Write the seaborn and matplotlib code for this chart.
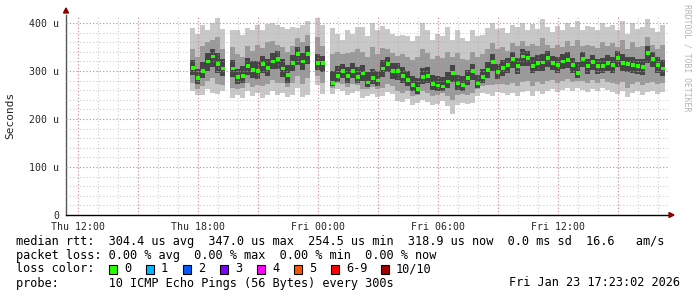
import numpy as np
import pandas as pd
import matplotlib
matplotlib.use("Agg")
import matplotlib.pyplot as plt
from matplotlib.patches import Rectangle
import seaborn as sns

# ---------------- data (hours since Thu 00:00, microseconds) ----------------
start_hour = 17.75
step_hours = 0.25
median_us = [306, 285, 300, 320, 330, 315, 305, np.nan, 305, 288, 290, 310, 302, 300, 315, 306,
             320, 325, 305, 292, 317, 335, 320, 335, np.nan, 317, 316, np.nan, 275, 290, 300, 290,
             300, 288, 295, 276, 285, 280, 305, 315, 300, 300, 290, 281, 271, 262, 288, 290,
             273, 270, 268, 278, 296, 274, 271, 285, 300, 274, 288, 302, 319, 298, 306, 312,
             325, 310, 330, 327, 311, 317, 318, 327, 317, 313, 320, 323, 312, 296, 325, 310,
             319, 310, 310, 317, 313, 327, 317, 315, 313, 310, 308, 337, 325, 313, 305]
outer_hi = [390, 378, 395, 385, 400, 410, 388, np.nan, 385, 385, 375, 390, 385, 395, 386, 398,
            400, 395, 392, 388, 392, 390, 396, 405, np.nan, 410, 395, np.nan, 390, 378, 365, 385,
            378, 392, 392, 372, 400, 385, 394, 388, 378, 372, 376, 372, 362, 372, 400, 385,
            365, 378, 372, 392, 365, 385, 368, 362, 385, 372, 375, 390, 400, 388, 390, 380,
            395, 392, 400, 385, 398, 388, 408, 392, 382, 394, 385, 400, 392, 404, 385, 394,
            392, 386, 400, 392, 396, 385, 404, 378, 400, 387, 392, 408, 390, 381, 395]
outer_lo = [258, 250, 250, 262, 255, 252, 258, np.nan, 244, 250, 244, 258, 247, 254, 244, 250,
            258, 250, 254, 246, 250, 264, 246, 250, np.nan, 270, 252, np.nan, 252, 262, 258, 250,
            255, 258, 244, 248, 252, 246, 248, 256, 252, 238, 236, 242, 230, 234, 240, 236,
            230, 232, 238, 228, 210, 230, 234, 232, 234, 248, 254, 252, 248, 256, 254, 250,
            254, 248, 256, 258, 248, 258, 252, 258, 263, 256, 260, 265, 258, 264, 260, 256,
            263, 258, 265, 260, 256, 252, 258, 246, 254, 259, 250, 256, 259, 252, 256]
mid_lo = [275, 262, 268, 280, 285, 272, 270, np.nan, 265, 262, 265, 276, 266, 270, 268, 272,
          282, 276, 274, 266, 275, 290, 272, 285, np.nan, 290, 276, np.nan, 265, 275, 272, 266,
          272, 270, 262, 262, 266, 262, 265, 272, 268, 258, 255, 258, 248, 250, 258, 255,
          248, 250, 254, 248, 240, 250, 252, 250, 255, 262, 268, 270, 270, 272, 272, 270,
          275, 268, 278, 280, 268, 278, 272, 280, 282, 275, 280, 284, 278, 280, 280, 275,
          282, 276, 284, 278, 275, 272, 278, 265, 272, 278, 270, 276, 278, 272, 275]
mid_hi = [345, 330, 352, 360, 365, 370, 345, np.nan, 350, 335, 330, 352, 342, 355, 348, 360,
          362, 355, 350, 340, 352, 368, 360, 375, np.nan, 370, 352, np.nan, 335, 340, 335, 338,
          340, 345, 340, 330, 350, 335, 348, 345, 338, 332, 335, 330, 322, 330, 345, 338,
          325, 332, 328, 340, 330, 338, 325, 322, 340, 330, 335, 345, 358, 345, 350, 342,
          358, 352, 362, 352, 356, 352, 368, 355, 348, 355, 350, 362, 352, 365, 352, 355,
          352, 348, 360, 352, 358, 350, 365, 345, 360, 350, 352, 370, 355, 345, 355]
core_lo = [292, 272, 285, 300, 308, 295, 290, np.nan, 288, 272, 276, 292, 286, 284, 296, 290,
           304, 305, 288, 276, 300, 312, 302, 315, np.nan, 302, 298, np.nan, 268, 278, 285, 275,
           285, 276, 280, 266, 272, 268, 288, 298, 284, 282, 274, 268, 258, 252, 272, 274,
           260, 258, 258, 264, 278, 260, 258, 270, 282, 264, 274, 286, 300, 284, 290, 296,
           306, 294, 310, 310, 295, 300, 300, 308, 302, 296, 304, 306, 296, 285, 308, 294,
           302, 294, 295, 300, 296, 308, 300, 298, 296, 294, 292, 316, 308, 296, 290]
core_hi = [322, 305, 318, 338, 345, 338, 325, np.nan, 322, 305, 310, 328, 320, 320, 332, 325,
           338, 342, 325, 312, 334, 350, 338, 352, np.nan, 335, 332, np.nan, 300, 310, 315, 308,
           316, 308, 312, 298, 305, 300, 322, 330, 316, 316, 308, 300, 290, 285, 306, 308,
           292, 290, 288, 298, 312, 292, 290, 302, 315, 292, 305, 318, 335, 315, 322, 328,
           340, 328, 345, 342, 330, 333, 335, 342, 332, 330, 335, 340, 328, 318, 340, 326,
           334, 326, 328, 333, 330, 342, 335, 330, 330, 326, 325, 352, 340, 330, 322]

tick_hours = [12, 18, 24, 30, 36]
tick_labels = ["Thu 12:00", "Thu 18:00", "Fri 00:00", "Fri 06:00", "Fri 12:00"]
y_ticks = [0, 100, 200, 300, 400]
y_tick_labels = ["0", "100 u", "200 u", "300 u", "400 u"]
loss_labels = ["0", "1", "2", "3", "4", "5", "6-9", "10/10"]
loss_colors = ["#26ff00", "#00b8ff", "#0059ff", "#7e00ff", "#ff00ff", "#ff5500", "#ff0000", "#a10000"]
legend_lines = [
    "median rtt:  304.4 us avg  347.0 us max  254.5 us min  318.9 us now  0.0 ms sd  16.6   am/s",
    "packet loss: 0.00 % avg  0.00 % max  0.00 % min  0.00 % now",
    "loss color:",
    "probe:       10 ICMP Echo Pings (56 Bytes) every 300s",
]
timestamp = "Fri Jan 23 17:23:02 2026"

hours = start_hour + step_hours * np.arange(len(median_us))
df = pd.DataFrame({"hour": hours, "median": median_us,
                   "olo": outer_lo, "ohi": outer_hi,
                   "mlo": mid_lo, "mhi": mid_hi,
                   "clo": core_lo, "chi": core_hi})
valid = df.dropna()

# ---------------- figure ----------------
sns.set_style("white")
mono = "DejaVu Sans Mono"
plt.rcParams["font.family"] = [mono, "DejaVu Sans"]

W, H = 697, 297
fig = plt.figure(figsize=(W / 100, H / 100), dpi=100)
L, R, T, B = 66, 668, 15, 215
ax = fig.add_axes([L / W, 1 - B / H, (R - L) / W, (B - T) / H])

x0 = 12 + (L - 78) / 20.0
x1 = 12 + (R - 78) / 20.0
ax.set_xlim(x0, x1)
ax.set_ylim(0, (B - T) / 0.48)

# smoke bands
for lo, hi, col in [("olo", "ohi", "#c8c8c8"), ("mlo", "mhi", "#9a9a9a"), ("clo", "chi", "#454545")]:
    ax.bar(valid["hour"], valid[hi] - valid[lo], bottom=valid[lo], width=step_hours,
           color=col, linewidth=0, align="center", zorder=2)

# median markers
sns.scatterplot(data=valid, x="hour", y="median", marker="s", s=7, color="#26ff00",
                edgecolor="none", linewidth=0, ax=ax, zorder=4, legend=False)

# grid (drawn above the data like rrdtool)
minor_x = np.arange(12, 42, 1.0)
major_x = np.arange(12, 42, 3.0)
for xv in minor_x:
    if xv >= x0:
        ax.axvline(xv, color="#b0b0b0", lw=0.8, ls=(0, (1, 2)), alpha=0.65, zorder=3)
for yv in np.arange(20, 420, 20):
    ax.axhline(yv, color="#b0b0b0", lw=0.8, ls=(0, (1, 2)), alpha=0.65, zorder=3)
for xv in major_x:
    ax.axvline(xv, color="#e07070", lw=0.8, ls=(0, (1, 2)), alpha=0.7, zorder=3)
for yv in y_ticks[1:]:
    ax.axhline(yv, color="#e07070", lw=0.8, ls=(0, (1, 2)), alpha=0.7, zorder=3)

ax.set_xticks(tick_hours)
ax.set_xticklabels(tick_labels, fontsize=7.1, family=mono)
ax.set_yticks(y_ticks)
ax.set_yticklabels(y_tick_labels, fontsize=7.1, family=mono)
ax.tick_params(axis="both", length=2, width=0.8, color="#555555", pad=3)
ax.set_xlabel("")
ax.set_ylabel("Seconds", fontsize=8, family=mono, labelpad=10)

for s in ["top", "right"]:
    ax.spines[s].set_visible(False)
ax.spines["left"].set_color("#555555")
ax.spines["left"].set_linewidth(1)
ax.spines["bottom"].set_color("#000000")
ax.spines["bottom"].set_linewidth(1)

# axis arrows
fig.patches.append(matplotlib.patches.Polygon(
    [[(L - 2.5) / W, 1 - 13 / H], [(L + 2.5) / W, 1 - 13 / H], [L / W, 1 - 8 / H]],
    closed=True, transform=fig.transFigure, color="#8b0000", zorder=10))
fig.patches.append(matplotlib.patches.Polygon(
    [[(R + 1) / W, 1 - (B - 2.5) / H], [(R + 1) / W, 1 - (B + 2.5) / H], [(R + 6) / W, 1 - B / H]],
    closed=True, transform=fig.transFigure, color="#8b0000", zorder=10))

# watermark
fig.text(687 / W, 1 - 4 / H, "RRDTOOL / TOBI OETIKER", rotation=270, ha="center", va="top",
         fontsize=5.9, color="#b4b4b4", family=mono)

# legend text
fs = 8.53
line_y = [241, 255, 269, 283]
for txt, yy in zip(legend_lines, line_y):
    fig.text(16 / W, 1 - yy / H, txt, ha="left", va="center", fontsize=fs, family=mono, color="#000000")
fig.text(680 / W, 1 - line_y[3] / H, timestamp, ha="right", va="center", fontsize=fs,
         family=mono, color="#000000")

box_x = [109, 146, 183, 220, 257, 294, 331, 381]
for bx, lab, col in zip(box_x, loss_labels, loss_colors):
    fig.patches.append(Rectangle((bx / W, 1 - (line_y[2] + 4.5) / H), 8 / W, 9 / H,
                                 transform=fig.transFigure, facecolor=col, edgecolor="#000000",
                                 linewidth=0.8, zorder=10))
    fig.text((bx + 15) / W, 1 - line_y[2] / H, lab, ha="left", va="center", fontsize=fs,
             family=mono, color="#000000")

fig.savefig("out.png", dpi=100, facecolor="white")
